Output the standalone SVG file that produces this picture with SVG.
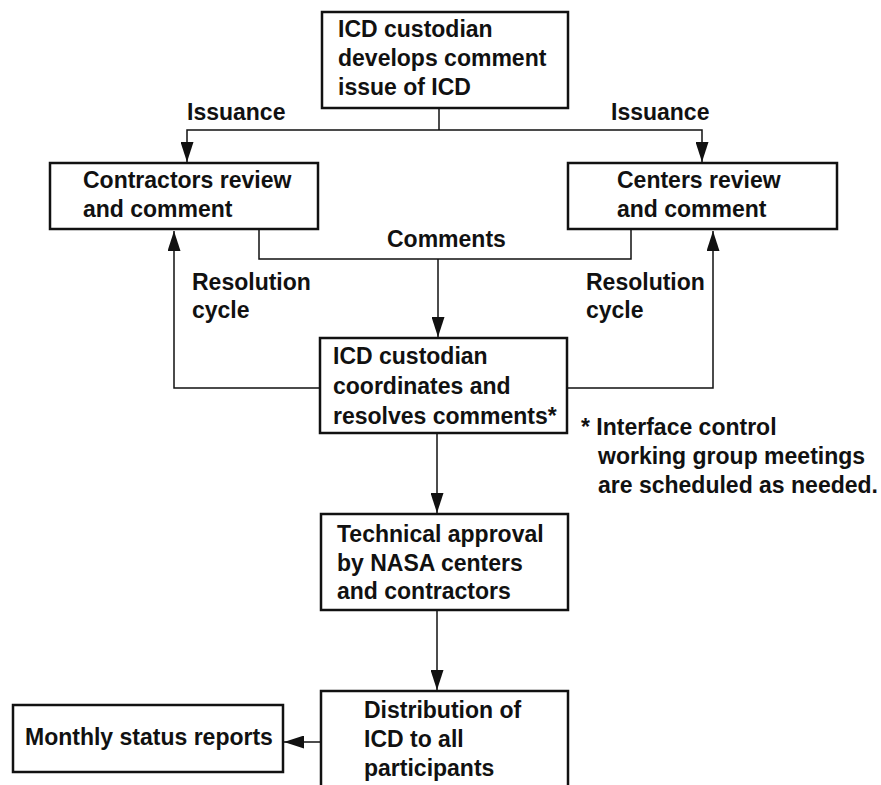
<svg xmlns="http://www.w3.org/2000/svg" width="881" height="785" viewBox="0 0 881 785">
<defs>
<style>
.box{fill:#fff;stroke:#111;stroke-width:2.5}
.t{font-family:"Liberation Sans",Arial,sans-serif;font-weight:bold;font-size:23px;fill:#111}
.c{fill:none;stroke:#111;stroke-width:1.5}
</style>
<marker id="ah" markerUnits="userSpaceOnUse" markerWidth="20" markerHeight="13" refX="20" refY="6.5" orient="auto">
<path d="M0,0 L20,6.5 L0,13 Z" fill="#111"/>
</marker>
</defs>
<rect width="881" height="785" fill="#fff"/>
<g id="connectors">
<path class="c" d="M439,108 V130"/>
<path class="c" d="M439,130 H187 V162" marker-end="url(#ah)"/>
<path class="c" d="M439,130 H702 V162" marker-end="url(#ah)"/>
<path class="c" d="M259,230 V259 H631 V230"/>
<path class="c" d="M438,259 V337" marker-end="url(#ah)"/>
<path class="c" d="M320,388 H174 V231" marker-end="url(#ah)"/>
<path class="c" d="M567,388 H713 V231" marker-end="url(#ah)"/>
<path class="c" d="M437,433 V513" marker-end="url(#ah)"/>
<path class="c" d="M437,610 V690" marker-end="url(#ah)"/>
<path class="c" d="M321,742 H284" marker-end="url(#ah)"/>
</g>
<g id="labels">
<text class="t" x="187" y="120">Issuance</text>
<text class="t" x="611" y="120">Issuance</text>
<text class="t" x="387" y="247">Comments</text>
<text class="t" x="192" y="290">Resolution</text>
<text class="t" x="192" y="318">cycle</text>
<text class="t" x="586" y="290">Resolution</text>
<text class="t" x="586" y="318">cycle</text>
</g>
<g id="n_top">
<rect class="box" x="322" y="12" width="246" height="96"/>
<text class="t" x="338" y="37">ICD custodian</text>
<text class="t" x="338" y="66">develops comment</text>
<text class="t" x="338" y="95">issue of ICD</text>
</g>
<g id="n_contractors">
<rect class="box" x="50" y="163" width="268" height="66"/>
<text class="t" x="83" y="188">Contractors review</text>
<text class="t" x="83" y="217">and comment</text>
</g>
<g id="n_centers">
<rect class="box" x="568" y="163" width="269" height="66"/>
<text class="t" x="617" y="188">Centers review</text>
<text class="t" x="617" y="217">and comment</text>
</g>
<g id="n_resolve">
<rect class="box" x="320" y="338" width="247" height="95"/>
<text class="t" x="333" y="364">ICD custodian</text>
<text class="t" x="333" y="394">coordinates and</text>
<text class="t" x="333" y="424">resolves comments*</text>
</g>
<g id="footnote">
<text class="t" x="581" y="435">* Interface control</text>
<text class="t" x="598" y="464">working group meetings</text>
<text class="t" x="598" y="493">are scheduled as needed.</text>
</g>
<g id="n_technical">
<rect class="box" x="321" y="514" width="247" height="96"/>
<text class="t" x="337" y="542">Technical approval</text>
<text class="t" x="337" y="571">by NASA centers</text>
<text class="t" x="337" y="599">and contractors</text>
</g>
<g id="n_distribution">
<rect class="box" x="321" y="691" width="247" height="120"/>
<text class="t" x="364" y="718">Distribution of</text>
<text class="t" x="364" y="747">ICD to all</text>
<text class="t" x="364" y="776">participants</text>
</g>
<g id="n_monthly">
<rect class="box" x="13" y="705" width="270" height="67"/>
<text class="t" x="25" y="745">Monthly status reports</text>
</g>
</svg>
